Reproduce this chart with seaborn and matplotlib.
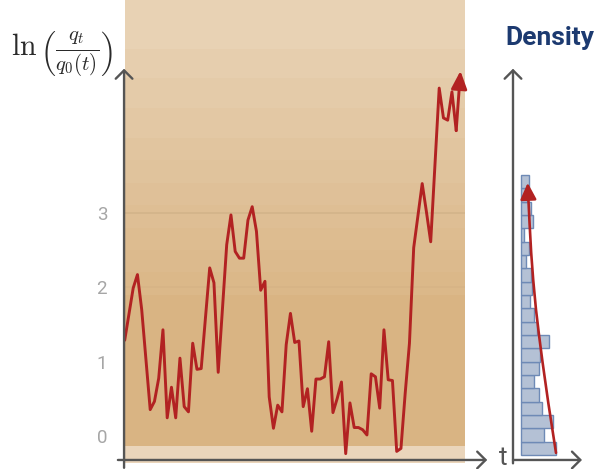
import numpy as np
import matplotlib
matplotlib.use("Agg")
import matplotlib.pyplot as plt
import seaborn as sns

# ---------------- data ----------------
# highlighted path: ln(q_t / q0(t)) at t = 0..79
path_t = list(range(80))
path_y = [1.29, 1.64, 1.99, 2.17, 1.70, 1.03, 0.36, 0.47, 0.78, 1.43,
          0.25, 0.66, 0.25, 1.05, 0.40, 0.33, 1.25, 0.90, 0.91, 1.59,
          2.26, 2.06, 0.86, 1.71, 2.57, 2.97, 2.48, 2.39, 2.39, 2.90,
          3.08, 2.75, 1.96, 2.08, 0.53, 0.11, 0.42, 0.33, 1.23, 1.65,
          1.26, 1.28, 0.40, 0.64, 0.07, 0.77, 0.77, 0.80, 1.27, 0.32,
          0.51, 0.73, -0.23, 0.45, 0.12, 0.12, 0.09, 0.02, 0.84, 0.80,
          0.38, 1.43, 0.76, 0.75, -0.20, -0.16, 0.58, 1.25, 2.53, 2.96,
          3.39, 3.01, 2.61, 3.64, 4.67, 4.27, 4.24, 4.62, 4.10, 4.90]

# ensemble of sample paths, summarised as coverage bands (t range, y levels, coverage)
ens_t = [0, 80]
ens_low = [-0.36, -0.13, 1.9, 2.2, 2.5, 2.8, 3.1, 3.4, 3.7, 4.0, 4.4, 4.8, 5.2]
ens_high = [-0.13, 1.9, 2.2, 2.5, 2.8, 3.1, 3.4, 3.7, 4.0, 4.4, 4.8, 5.2, 5.9]
ens_alpha = [0.55, 1.0, 0.95, 0.92, 0.89, 0.86, 0.83, 0.80, 0.77, 0.73, 0.69, 0.65, 0.60]

grid_levels = [0, 1, 2, 3]
ytick_labels = ["0", "1", "2", "3"]

# histogram of the distribution (bottom bin to top bin)
hist_start = -0.248
hist_width = 0.1787
hist_density = [0.35, 0.233, 0.317, 0.207, 0.175, 0.133, 0.175, 0.185, 0.275, 0.16,
                0.125, 0.093, 0.105, 0.095, 0.05, 0.083, 0.033, 0.12, 0.10, 0.06, 0.08]

# theoretical density curve
curve_y = [-0.22, 0.45, 1.00, 1.34, 1.70, 2.10, 2.46, 2.85, 3.21, 3.40]
curve_d = [0.35, 0.273, 0.215, 0.182, 0.150, 0.122, 0.102, 0.086, 0.073, 0.067]

# ---------------- style ----------------
sns.set_theme(style="white")
plt.rcParams["font.family"] = ["Roboto", "DejaVu Sans"]
plt.rcParams["mathtext.fontset"] = "cm"

TAN = "#D9B483"
RED = "#B22222"
AXC = "#555555"

W, H = 598, 469
fig = plt.figure(figsize=(W / 100, H / 100), dpi=100)


def px_rect(x0, y0, x1, y1):
    return [x0 / W, 1 - y1 / H, (x1 - x0) / W, (y1 - y0) / H]


YLIM = (-0.436, 5.851)

# ---------------- main panel ----------------
ax = fig.add_axes(px_rect(110, 0, 495, 469))
ax.set_xlim(-3.46, 87.13)
ax.set_ylim(*YLIM)
for s in ax.spines.values():
    s.set_visible(False)

ax.hlines(grid_levels, 0, 80, color="#b5b5b5", lw=1.3, zorder=0)
for lo, hi, a in zip(ens_low, ens_high, ens_alpha):
    ax.fill_between(ens_t, [lo, lo], [hi, hi], color=TAN, alpha=a, lw=0, zorder=1)

sns.lineplot(x=path_t[:-1], y=path_y[:-1], ax=ax, color=RED, lw=2.1, zorder=5)
ax.annotate("", xy=(path_t[-1], path_y[-1]), xytext=(path_t[-2], path_y[-2]),
            arrowprops=dict(arrowstyle="-|>,head_length=0.45,head_width=0.2",
                            color=RED, lw=2.1, mutation_scale=24,
                            shrinkA=0, shrinkB=0), zorder=6)

ax.set_xticks([])
ax.set_yticks(grid_levels)
ax.set_yticklabels(ytick_labels)
ax.tick_params(axis="y", length=0, pad=2, labelsize=13.5, labelcolor="#a6a6a6")

arrow_kw = dict(arrowstyle="->,head_length=0.6,head_width=0.6", color=AXC,
                lw=1.7, mutation_scale=10, shrinkA=0, shrinkB=0)
ax.annotate("", xy=(-0.15, 4.93), xytext=(-0.15, -0.42), arrowprops=arrow_kw,
            annotation_clip=False, zorder=7)
ax.annotate("", xy=(85.3, -0.315), xytext=(-1.6, -0.315), arrowprops=arrow_kw,
            annotation_clip=False, zorder=7)

# ---------------- density panel ----------------
ax2 = fig.add_axes(px_rect(505, 0, 598, 469))
ax2.set_xlim(-0.16, 0.77)
ax2.set_ylim(*YLIM)
for s in ax2.spines.values():
    s.set_visible(False)
ax2.set_xticks([])
ax2.set_yticks([])
ax2.patch.set_alpha(0)

centers = hist_start + hist_width * (np.arange(len(hist_density)) + 0.5)
ax2.barh(centers, hist_density, height=hist_width, left=0,
         color="#b4c1d5", edgecolor="#6e8ab6", lw=1.0, zorder=2)

ax2.plot(curve_d[:-1], curve_y[:-1], color=RED, lw=1.9, zorder=5)
ax2.annotate("", xy=(curve_d[-1], curve_y[-1]), xytext=(curve_d[-2], curve_y[-2]),
             arrowprops=dict(arrowstyle="-|>,head_length=0.45,head_width=0.22",
                             color=RED, lw=1.9, mutation_scale=22,
                             shrinkA=0, shrinkB=0), zorder=6)

ax2.annotate("", xy=(-0.08, 4.93), xytext=(-0.08, -0.36), arrowprops=arrow_kw,
             annotation_clip=False, zorder=7)
ax2.annotate("", xy=(0.61, -0.315), xytext=(-0.08, -0.315), arrowprops=arrow_kw,
             annotation_clip=False, zorder=7)

# ---------------- texts ----------------
fig.text(62 / W, 1 - 54 / H, r"$\ln\left(\frac{q_t}{q_0(t)}\right)$",
         fontsize=21.5, color="#2a2a2a", ha="center", va="center")
fig.text(550 / W, 1 - 38 / H, "Density", fontsize=19, fontweight="bold",
         color="#1c3a70", ha="center", va="center")
fig.text(503 / W, 1 - 458 / H, "t", fontsize=19, color="#555555",
         ha="center", va="center")

fig.savefig("out.png", dpi=100)
